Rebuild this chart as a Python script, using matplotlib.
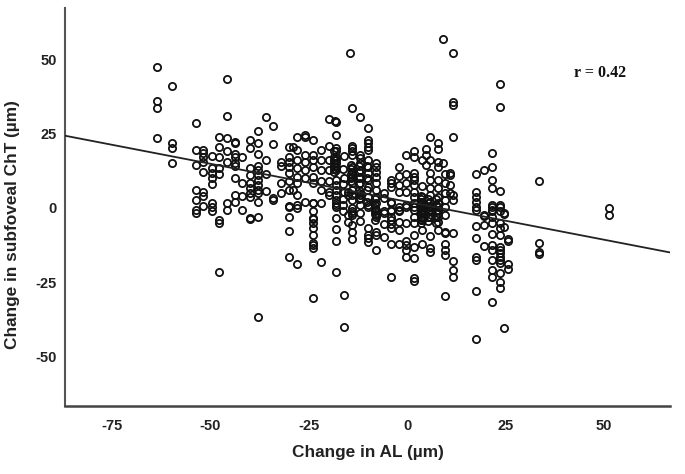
import matplotlib
matplotlib.use('Agg')
import matplotlib.pyplot as plt

# change in AL -> changes in ChT
columns = [
 (-63.7, [47.6, 36, 33.7, 23.5]),
 (-59.7, [41.2, 22, 20, 15]),
 (-53.8, [28.7, 19.5, 14.5, 6, 2.5, -0.7, -1.6]),
 (-51.8, [19.5, 18.5, 17, 15.6, 12.2, 5.5, 4, 0.7]),
 (-49.7, [17.5, 13.5, 11.8, 10, 8, 1.8, 0.4, -0.9]),
 (-47.8, [23.9, 20.6, 17.3, 13.5, 11.5, -4, -5, -21.6]),
 (-45.8, [43.4, 31, 23.5, 19.3, 15.6, 1.6, -0.7]),
 (-43.8, [22.3, 21.8, 18, 17, 15, 14, 10, 4.4, 2.1]),
 (-42, [17, 8.4, 4, -0.7]),
 (-40, [22.7, 20, 13.3, 11, 8.4, 6.7, 5, 3.8, -3.4, -3.8]),
 (-37.9, [26, 22, 18, 14, 12.8, 11, 9.4, 7.7, 6, 5, 2.1, -2.9, -36.6]),
 (-36, [30.5, 16, 11.5, 5.7]),
 (-34, [27.7, 21.4, 3.2, 2.5]),
 (-32, [15.6, 14, 8.3, 5]),
 (-30, [20.6, 17, 15.6, 13.9, 11.7, 8.9, 6, 0.7, -2.9, 0.4, -7.7, -16.4]),
 (-29, [20.6, 6]),
 (-28, [24, 19.5, 16, 13.4, 10.5, 8.3, 4.4, 1, 0, -18.9]),
 (-26, [24.6, 24, 17.8, 15.6, 12.6, 10, 2.1]),
 (-24, [22.7, 17.8, 16, 13.9, 10.5, 8.3, 1.8, -0.9, -3.5, 1.6, -3.8, -5, -6.8, -9, -11.9, -12.6, -13.6, -30.4]),
 (-22, [19.5, 16, 12.8, 8.9, 6, 1.6, -18.2]),
 (-20, [29.9, 21, 16, 12.8, 9, 5.5, 4.4]),
 (-18.6, [19, 17, 16, 15, 14, 13, 12]),
 (-18.4, [29.4]),
 (-18, [29, 24.6, 20, 19, 17.3, 16, 15, 13.9, 12.8, 9.4, 7.7, 6, 4.4, 2.7, 1.6, 0.4, 1, -3.5, -7, -11.1, -21.7]),
 (-16.3, [13, 8, 3, 1, -1]),
 (-16, [17.6, 10, 5.5, -29.3, -40]),
 (-15, [5.5, 4.4, -2.4, -4.8]),
 (-14.5, [52.3]),
 (-14.2, [14.5, 13, 11.5, 10, 9]),
 (-14, [33.6, 21, 20, 19, 17.8, 13.9, 12.2, 10.5, 8.3, 6, 4.4, 2.7, 0, -1.7, -1.2, -2.4, -5.7, -8.2, -10.5]),
 (-12.2, [14, 12, 10, 8, 6, 5, 3]),
 (-12, [30.7, 17.8, 16.7, 15, 12.8, 10.5, 8.3, 4.4, 3.3, 1, -1.8, -4.3]),
 (-10.3, [14, 10, 6, 2]),
 (-10, [27, 22.9, 21.8, 20.6, 19.5, 16, 13.9, 11.7, 9.4, 7.2, 3.8, 1, 0.4, -6.8, -9, -10.2, -11.5]),
 (-8.3, [3, 1, 0, -1, -2, -4]),
 (-8, [15, 13.9, 12.2, 10.5, 8.3, 6, 3.8, 1.6, -0.7, -2.4, -2.9, -8, -9, -14.1]),
 (-6, [5, 3.3, -1.2, -1.8, -5.4, -9.9]),
 (-4.2, [9.4, 8.3, 7.2, 2.1, -0.7, -2.9, 1.6, -1.2, -4, -5.4, -6.8, -12.2, -23.1]),
 (-2.2, [13.9, 10.9, 7.7, 5.5, 0.4, -1.2, -0.7, -4.6, -7.4, -12.1]),
 (-0.2, [17.8, 11.5, 8.3, 5.5, 1, 0.4, -5.2, -11.3, -12.5, -14.1, -16.4]),
 (1.7, [19, 17.3, 11.7, 10.5, 9.4, 7.7, 5.5, 3.8, 1.6, -0.7, -2.9, 0.4, -5.2, -9, -13, -17, -23.7, -24.5]),
 (3.4, [4, 3, 2, 1, 0, -1, -2, -3, -4, -5]),
 (3.8, [16, 7.5, 3.8, 2.1, 0.4, -1.8, -3.5, -0.7, -4, -7.4, -12.1]),
 (4.7, [19.9, 17.8, 14.5]),
 (5.4, [3, 1.5, 0, -1.5, -3, -4.5]),
 (5.7, [23.9, 16, 11.7, 9.4, 6.6, 4.4, 2.1, 0.4, -1.2, -2.9, -9.3, -13.6, -15]),
 (7.4, [3, 1, -1, -3, -5]),
 (7.7, [22, 19.8, 15.6, 13.9, 9.4, 6.6, 3.8, 1.6, -0.7, -2.9, 0.4, -1.8, -4.6, -7.4]),
 (9.2, [56.8, 15]),
 (9.7, [11.5, 8.3, 5, 2.7, 0.4, -2.4, -8, -8.5, -12.1, -14.1, -15.8, -29.6]),
 (10.8, [11.9, 11.1, 7.7, 5]),
 (11.7, [52.1, 35.8, 34.7, 23.9, 4.4, 2.7, -8.3, -17.8, -20.9, -23.1]),
 (17.6, [11.3, 5.5, 3.8, 2.1, 0.4, -0.7, -6, -10.3, -16.4, -17.5, -28, -44.2]),
 (19.6, [12.8, -2.7, -2.4, -5.7, -12.7]),
 (21.6, [18.4, 13.6, 9.4, 6.6, 1, -0.7, -2.9, 0.4, -1.2, -5.2, -8.9, -12.5, -14.1, -17.5, -20.9, -23.3, -31.7]),
 (23.6, [41.6, 34.1, 5.7, 1, -1.2, 0.4, -5.2, -6.8, -9, -13, -14.1, -15.3, -16.4, -17.5, -18.6, -21.8, -24.8, -27]),
 (24.6, [-1.6, -2, -6.3, -40.5]),
 (25.7, [-10.5, -11, -18.9, -20.6]),
 (33.5, [8.9, -11.9, -14.9, -15.5]),
 (51.3, [-0.1, -2.4]),
]
fit_x = [-87, 66.8]
fit_y = [24.3, -15]
x_ticks = [-75, -50, -25, 0, 25, 50]
y_ticks = [-50, -25, 0, 25, 50]

plt.rcParams['font.family'] = ['Liberation Sans', 'DejaVu Sans']
plt.rcParams['axes.unicode_minus'] = False

x = []
y = []
for c in columns:
    for v in c[1]:
        x.append(c[0])
        y.append(v)

fig = plt.figure(figsize=(6.85, 4.74), dpi=100)
ax = fig.add_axes([65/685, 1-406/474, 605/685, 398/474])
ax.plot(x, y, 'o', mfc='none', mec='#111111', mew=1.3, ms=5.2, zorder=2)
ax.plot(fit_x, fit_y, color='#222222', lw=1.3, zorder=3)
ax.set_xlim(-87, 66.8)
ax.set_ylim(-66.7, 67.3)
ax.set_xticks(x_ticks)
ax.set_yticks(y_ticks)
ax.tick_params(length=0, labelsize=10.5)
ax.tick_params(axis='x', pad=9)
ax.tick_params(axis='y', pad=6)
for t in ax.get_xticklabels() + ax.get_yticklabels():
    t.set_fontweight('bold')
    t.set_color('#222222')
ax.spines['top'].set_visible(False)
ax.spines['right'].set_visible(False)
ax.spines['left'].set_linewidth(1.5)
ax.spines['bottom'].set_linewidth(1.8)
ax.spines['left'].set_color('#555555')
ax.spines['bottom'].set_color('#444444')
fig.text(368/685, 1-453/474, 'Change in AL (µm)', ha='center', va='center', fontsize=12.4, fontweight='bold', color='#222222')
fig.text(13/685, 1-225/474, 'Change in subfoveal ChT (µm)', ha='center', va='center', rotation=90, fontsize=12.4, fontweight='bold', color='#222222')
fig.text(600/685, 1-73/474, 'r = 0.42', ha='center', va='center', fontsize=11.5, fontweight='bold', family=['Liberation Serif'], color='#111111')
fig.savefig('out.png', dpi=100)
